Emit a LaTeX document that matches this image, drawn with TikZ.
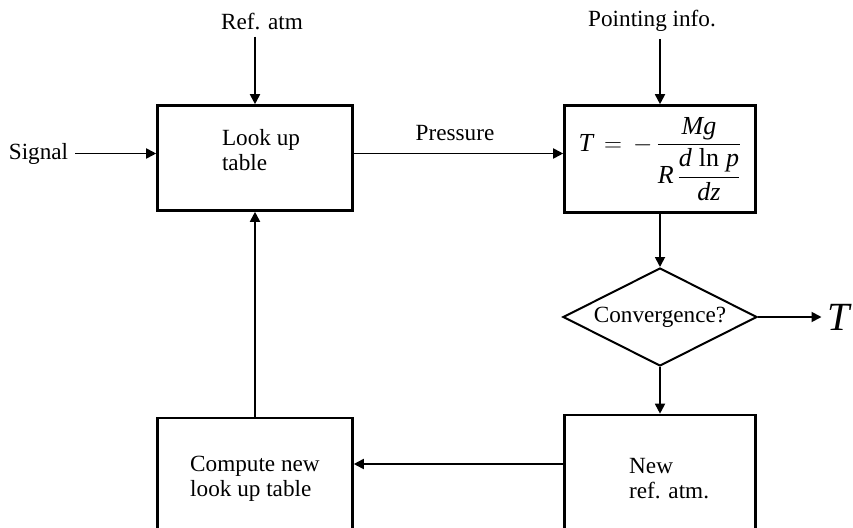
\documentclass[tikz,border=0pt]{standalone}
\usepackage{amsmath}
\usepackage{fontspec}
\setmainfont{Liberation Serif}
\usetikzlibrary{arrows.meta,shapes.geometric}
\begin{document}
\begin{tikzpicture}[x=1pt,y=-1pt,
  every node/.style={font=\fontsize{23.2}{25}\selectfont, inner sep=0pt},
  block/.style={draw, line width=2.6pt},
  decision/.style={draw, diamond, aspect=2, line width=2pt,
    minimum width=194pt, minimum height=98pt},
  flow/.style={line width=1.8pt, -{Triangle[length=10pt,width=10pt]}}]
\useasboundingbox (0,0) rectangle (853,527);
\clip (-5,0) rectangle (860,527);

% boxes
\node[block, minimum width=195pt, minimum height=105pt] (lut) at (255,158) {};
\node[block, minimum width=191pt, minimum height=107pt] (fbox) at (660,159) {};
\node[block, minimum width=195pt, minimum height=142pt] (cmp) at (255,489) {};
\node[block, minimum width=191pt, minimum height=146pt] (newatm) at (660,488) {};
\node[decision] (dec) at (660,317) {Convergence?};

% texts inside boxes
\node[align=left] (lutt) at (261,150) {Look up\\table};
\node[align=left, anchor=west] (cmpt) at (190,479) {Compute new\\look up table};
\node[align=left, anchor=west] (newt) at (629,479) {New\\ref. atm.};
\node[font=\fontsize{26}{28}\selectfont] (eq) at (660,159)
  {$\textit{T}\,=\,-\,\dfrac{\textit{Mg}}{\textit{R}\,\dfrac{\textit{d}\;\textrm{ln}\;\textit{p}}{\textit{dz}}}$};

% outside labels
\node (sig) at (38.5,153.5) {Signal};
\node (ref) at (262,21) {Ref. atm};
\node (pres) at (455,133) {Pressure};
\node (pinfo) at (652,21) {Pointing info.};
\node (Tout) at (840,317) {\fontsize{40}{40}\selectfont\textit{T}};
\coordinate (Tin) at ([xshift=-6pt]Tout.west);

% connectors
\draw[flow] ([xshift=7pt]sig.east) -- (sig.east -| lut.west);
\draw[flow] (lut.north |- ref.south) ++(0,7) -- (lut.north);
\draw[flow] (sig.east -| lut.east) -- (sig.east -| fbox.west);
\draw[flow] (fbox.north |- pinfo.south) ++(0,7) -- (fbox.north);
\draw[flow] (fbox.south) -- (dec.north);
\draw[flow] (dec.east) -- (dec.east -| Tin);
\draw[flow] (dec.south) -- (newatm.north);
\draw[flow] ([yshift=24pt]newatm.west) -- ([yshift=24pt]newatm.west -| cmp.east);
\draw[flow] (cmp.north) -- (lut.south);
\end{tikzpicture}
\end{document}
